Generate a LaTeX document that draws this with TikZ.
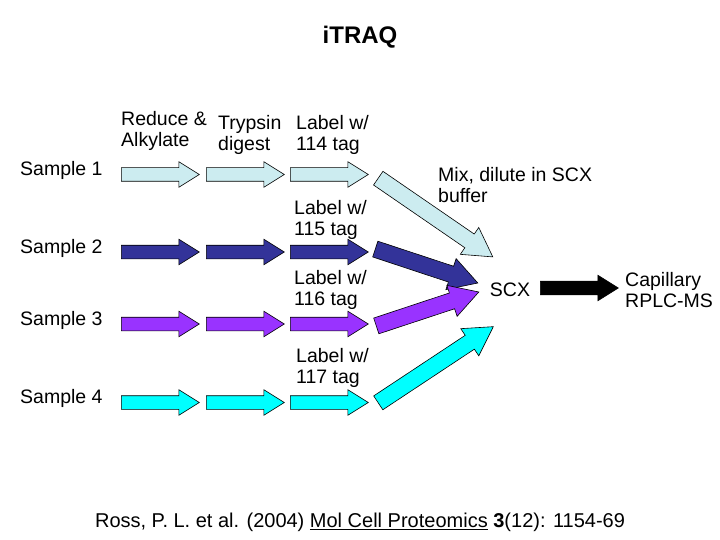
\documentclass[tikz,border=0pt]{standalone}
\usepackage{fontspec}
\setmainfont{Liberation Sans}
\usepackage{xcolor}
\usepackage{tikz}
\usetikzlibrary{positioning, shapes.arrows}

\definecolor{paleblue}{RGB}{204,236,240}
\definecolor{navyblue}{RGB}{51,51,153}
\definecolor{violet}{RGB}{153,51,255}
\definecolor{aqua}{RGB}{0,255,255}

\begin{document}
\begin{tikzpicture}[x=1pt, y=-1pt,
    blk/.style={single arrow, draw=black, line width=0.6pt, inner xsep=0pt,
      inner ysep=6.5pt, minimum height=78pt, single arrow head extend=6pt,
      single arrow tip angle=64, single arrow head indent=0pt, anchor=tail},
    bigblk/.style={blk, inner ysep=8pt, single arrow head extend=8pt,
      single arrow tip angle=60},
    lbl/.style={anchor=west, align=left, inner sep=0pt, font=\fontsize{19.5}{21.5}\selectfont},
    txt/.style={inner sep=0pt, font=\fontsize{19.5}{21.5}\selectfont}]
  \useasboundingbox (0,0) rectangle (720,540);

  % Title
  \node[txt, font=\fontsize{24}{28}\selectfont\bfseries] (title) at (360,37) {iTRAQ};

  % Step labels
  \node[lbl] (reduce) at (121,131) {Reduce \&\\Alkylate};
  \node[lbl] (trypsin) at (218,135) {Trypsin\\digest};

  % Sample 1
  \node[lbl] (s1) at (20,170) {Sample 1};
  \node[blk, fill=paleblue] (r1a) at (121,174.5) {};
  \node[blk, fill=paleblue] (r1b) at (206,174.5) {};
  \node[blk, fill=paleblue] (r1c) at (290,174.5) {};

  % Sample 2
  \node[lbl] (s2) at (20,248) {Sample 2};
  \node[blk, fill=navyblue] (r2a) at (121,252) {};
  \node[blk, fill=navyblue] (r2b) at (206,252) {};
  \node[blk, fill=navyblue] (r2c) at (290,252) {};

  % Sample 3
  \node[lbl] (s3) at (20,320) {Sample 3};
  \node[blk, fill=violet] (r3a) at (121,324) {};
  \node[blk, fill=violet] (r3b) at (206,324) {};
  \node[blk, fill=violet] (r3c) at (290,324) {};

  % Sample 4
  \node[lbl] (s4) at (20,398) {Sample 4};
  \node[blk, fill=aqua] (r4a) at (121,402.5) {};
  \node[blk, fill=aqua] (r4b) at (206,402.5) {};
  \node[blk, fill=aqua] (r4c) at (290,402.5) {};

  % Tag labels
  \node[lbl] (tag114) at (296,135) {Label w/\\114 tag};
  \node[lbl] (tag115) at (294,220) {Label w/\\115 tag};
  \node[lbl] (tag116) at (294,290) {Label w/\\116 tag};
  \node[lbl] (tag117) at (296,368) {Label w/\\117 tag};

  % Mixing
  \node[bigblk, fill=paleblue, minimum height=139pt, rotate=-34.5] (m1) at (378,178) {};
  \node[bigblk, fill=navyblue, minimum height=108pt, rotate=-18.3] (m2) at (375,249) {};
  \node[bigblk, fill=violet, minimum height=108pt, rotate=18.3] (m3) at (376,326) {};
  \node[bigblk, fill=aqua, minimum height=138pt, rotate=33.5] (m4) at (378,403) {};
  \node[lbl] (mix) at (438,185) {Mix, dilute in SCX\\buffer};

  % SCX and LC-MS
  \node[txt] (scx) at (510,290) {SCX};
  \node[blk, fill=black] (lc) at (540,288) {};
  \node[lbl] (ms) at (625,290) {Capillary\\RPLC-MS};

  % Reference
  \node[txt, font=\fontsize{20}{24}\selectfont] (ref) at (360,522)
    {Ross, P. L. et al. (2004) \underline{Mol Cell Proteomics} \textbf{3}(12): 1154-69};
\end{tikzpicture}
\end{document}
